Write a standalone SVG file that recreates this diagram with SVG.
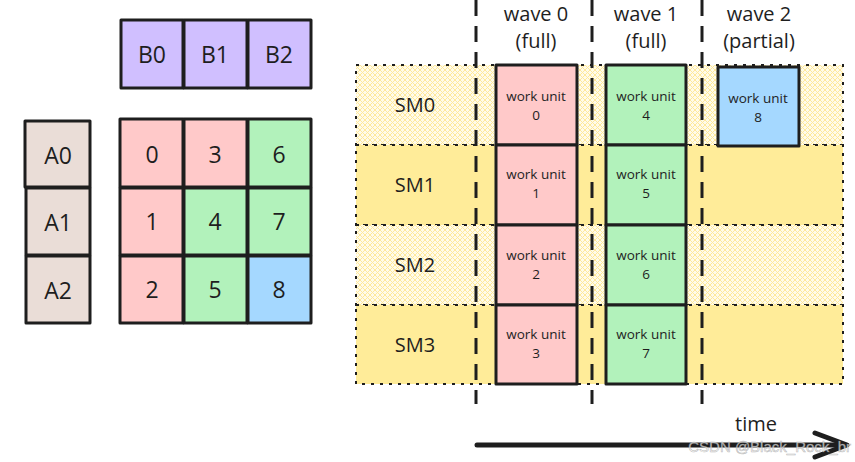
<svg xmlns="http://www.w3.org/2000/svg" width="855" height="462" viewBox="0 0 855 462">
  <defs>
    <pattern id="hatch" width="5" height="5" patternUnits="userSpaceOnUse">
      <rect width="5" height="5" fill="#fffbea"/>
      <path d="M0,0 L5,5 M5,0 L0,5" stroke="#ffe99a" stroke-width="1"/>
    </pattern>
    <style>
      .cell { stroke: #1e1e1e; stroke-width: 3; stroke-linejoin: round; }
      .b { fill: #d0bfff; }
      .a { fill: #eaddd7; }
      .r { fill: #ffc9c9; }
      .g { fill: #b2f2bb; }
      .bl { fill: #a5d8ff; }
      .big { font-family: "Open Sans", "Liberation Sans", sans-serif; font-size: 23px; fill: #1e1e1e; text-anchor: middle; dominant-baseline: central; }
      .lbl { font-family: "Open Sans", "Liberation Sans", sans-serif; font-size: 20px; fill: #1e1e1e; text-anchor: middle; }
      .wu { font-family: "Open Sans", "Liberation Sans", sans-serif; font-size: 13.5px; fill: #1e1e1e; text-anchor: middle; }
      .lane { stroke: #1e1e1e; stroke-width: 2; stroke-dasharray: 3 6; }
      .wave { stroke: #1e1e1e; stroke-width: 3; stroke-dasharray: 16 10; fill: none; }
    </style>
  </defs>

  <!-- B row -->
  <g id="B0"><rect class="cell b" x="121" y="20" width="62" height="68"/><text class="big" x="152" y="54">B0</text></g>
  <g id="B1"><rect class="cell b" x="184" y="20" width="63" height="68"/><text class="big" x="215" y="54">B1</text></g>
  <g id="B2"><rect class="cell b" x="248" y="20" width="63" height="68"/><text class="big" x="279" y="54">B2</text></g>

  <!-- A column -->
  <g id="A0"><rect class="cell a" x="25" y="121" width="65" height="66"/><text class="big" x="58" y="155">A0</text></g>
  <g id="A1"><rect class="cell a" x="26" y="188" width="64" height="67"/><text class="big" x="58" y="222">A1</text></g>
  <g id="A2"><rect class="cell a" x="26" y="256" width="64" height="67"/><text class="big" x="58" y="290">A2</text></g>

  <!-- output tiles -->
  <g id="C0"><rect class="cell r" x="120" y="119" width="63" height="68"/><text class="big" x="152" y="154">0</text></g>
  <g id="C3"><rect class="cell r" x="184" y="119" width="63" height="68"/><text class="big" x="215" y="154">3</text></g>
  <g id="C6"><rect class="cell g" x="248" y="119" width="63" height="68"/><text class="big" x="279" y="154">6</text></g>
  <g id="C1"><rect class="cell r" x="120" y="188" width="63" height="67"/><text class="big" x="152" y="221">1</text></g>
  <g id="C4"><rect class="cell g" x="184" y="188" width="63" height="67"/><text class="big" x="215" y="221">4</text></g>
  <g id="C7"><rect class="cell g" x="248" y="188" width="63" height="67"/><text class="big" x="279" y="221">7</text></g>
  <g id="C2"><rect class="cell r" x="120" y="256" width="63" height="67"/><text class="big" x="152" y="289">2</text></g>
  <g id="C5"><rect class="cell g" x="184" y="256" width="63" height="67"/><text class="big" x="215" y="289">5</text></g>
  <g id="C8"><rect class="cell bl" x="248" y="256" width="63" height="67"/><text class="big" x="279" y="289">8</text></g>

  <!-- SM lanes -->
  <g id="SM0"><rect class="lane" x="356" y="65" width="487" height="80" fill="url(#hatch)"/><text class="lbl" x="415" y="112">SM0</text></g>
  <g id="SM1"><rect class="lane" x="356" y="145" width="487" height="80" fill="#ffec99"/><text class="lbl" x="415" y="192">SM1</text></g>
  <g id="SM2"><rect class="lane" x="356" y="225" width="487" height="80" fill="url(#hatch)"/><text class="lbl" x="415" y="272">SM2</text></g>
  <g id="SM3"><rect class="lane" x="356" y="305" width="487" height="79" fill="#ffec99"/><text class="lbl" x="415" y="352">SM3</text></g>

  <!-- wave separators and time axis -->
  <g id="connectors">
    <line class="wave" x1="476" y1="0" x2="476" y2="404"/>
    <line class="wave" x1="592" y1="0" x2="592" y2="404"/>
    <line class="wave" x1="702" y1="0" x2="702" y2="404"/>
    <line x1="477" y1="445" x2="845" y2="445" stroke="#1e1e1e" stroke-width="5" stroke-linecap="round"/>
    <path d="M815,433 L847,445 L815,457" fill="none" stroke="#1e1e1e" stroke-width="5" stroke-linecap="round" stroke-linejoin="round"/>
  </g>

  <!-- wave headings -->
  <g id="wave0"><text class="lbl" x="536" y="21">wave 0</text><text class="lbl" x="536" y="48">(full)</text></g>
  <g id="wave1"><text class="lbl" x="646" y="21">wave 1</text><text class="lbl" x="646" y="48">(full)</text></g>
  <g id="wave2"><text class="lbl" x="759" y="21">wave 2</text><text class="lbl" x="759" y="48">(partial)</text></g>
  <g id="time"><text class="lbl" x="756" y="431">time</text></g>

  <!-- work units -->
  <g id="wu0"><rect class="cell r" x="496" y="65" width="81" height="80"/><text class="wu" x="536" y="101">work unit</text><text class="wu" x="536" y="120">0</text></g>
  <g id="wu1"><rect class="cell r" x="496" y="145" width="81" height="80"/><text class="wu" x="536" y="179">work unit</text><text class="wu" x="536" y="198">1</text></g>
  <g id="wu2"><rect class="cell r" x="496" y="225" width="81" height="80"/><text class="wu" x="536" y="260">work unit</text><text class="wu" x="536" y="279">2</text></g>
  <g id="wu3"><rect class="cell r" x="496" y="305" width="81" height="79"/><text class="wu" x="536" y="339">work unit</text><text class="wu" x="536" y="358">3</text></g>
  <g id="wu4"><rect class="cell g" x="606" y="65" width="80" height="80"/><text class="wu" x="646" y="101">work unit</text><text class="wu" x="646" y="120">4</text></g>
  <g id="wu5"><rect class="cell g" x="606" y="145" width="80" height="80"/><text class="wu" x="646" y="179">work unit</text><text class="wu" x="646" y="198">5</text></g>
  <g id="wu6"><rect class="cell g" x="606" y="225" width="80" height="80"/><text class="wu" x="646" y="260">work unit</text><text class="wu" x="646" y="279">6</text></g>
  <g id="wu7"><rect class="cell g" x="606" y="305" width="80" height="79"/><text class="wu" x="646" y="339">work unit</text><text class="wu" x="646" y="358">7</text></g>
  <g id="wu8"><rect class="cell bl" x="718" y="67" width="81" height="79"/><text class="wu" x="758" y="103">work unit</text><text class="wu" x="758" y="122">8</text></g>

  <!-- watermark -->
  <text x="851" y="452" text-anchor="end" font-family="Liberation Sans, sans-serif" font-size="15" fill="#ffffff" fill-opacity="0.7" stroke="#8a8a8a" stroke-width="0.6" stroke-opacity="0.6">CSDN @Black_Rock_br</text>
</svg>
